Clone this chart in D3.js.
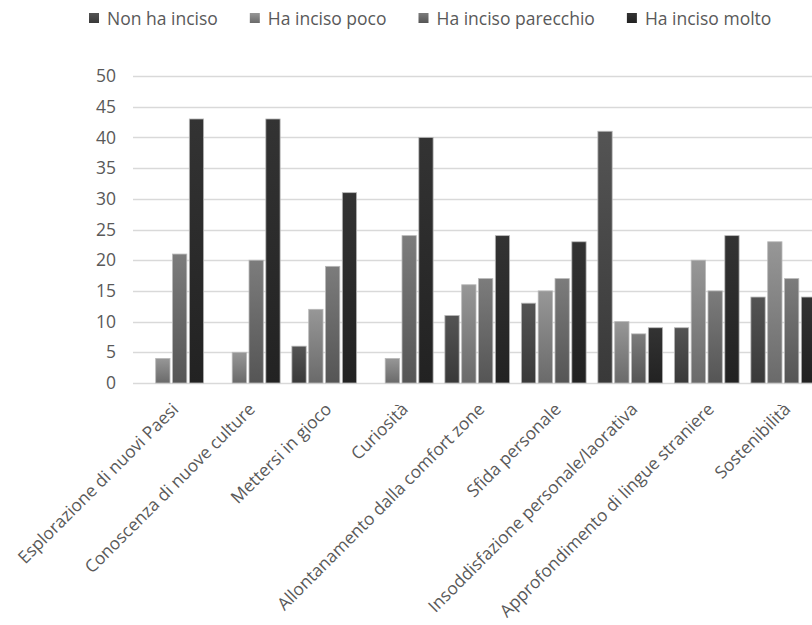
<!DOCTYPE html>
<html>
<head>
<meta charset="utf-8">
<script src="https://cdn.jsdelivr.net/npm/d3@7"></script>
<style>
  html, body { margin: 0; padding: 0; background: #fff; }
  svg { display: block; font-family: "Open Sans", sans-serif; }
</style>
</head>
<body>
<svg id="chart" width="812" height="625"></svg>
<script>
const categories = [
  "Esplorazione di nuovi Paesi",
  "Conoscenza di nuove culture",
  "Mettersi in gioco",
  "Curiosità",
  "Allontanamento dalla comfort zone",
  "Sfida personale",
  "Insoddisfazione personale/laorativa",
  "Approfondimento di lingue straniere",
  "Sostenibilità"
];
const seriesNames = ["Non ha inciso", "Ha inciso poco", "Ha inciso parecchio", "Ha inciso molto"];
const nonHaInciso      = [0, 0, 6, 0, 11, 13, 41, 9, 14];
const haIncisoPoco     = [4, 5, 12, 4, 16, 15, 10, 20, 23];
const haIncisoParecchio= [21, 20, 19, 24, 17, 17, 8, 15, 17];
const haIncisoMolto    = [43, 43, 31, 40, 24, 23, 9, 24, 14];
const seriesValues = [nonHaInciso, haIncisoPoco, haIncisoParecchio, haIncisoMolto];
const yTicks = [0, 5, 10, 15, 20, 25, 30, 35, 40, 45, 50];

const gradTop    = ["#545454", "#979797", "#7c7c7c", "#333333"];
const gradBottom = ["#393939", "#6a6a6a", "#555555", "#222222"];

const svg = d3.select("#chart");
const defs = svg.append("defs");
seriesNames.forEach((s, i) => {
  const g = defs.append("linearGradient").attr("id", "g" + i)
    .attr("x1", 0).attr("y1", 0).attr("x2", 0).attr("y2", 1);
  g.append("stop").attr("offset", "0%").attr("stop-color", gradTop[i]);
  g.append("stop").attr("offset", "100%").attr("stop-color", gradBottom[i]);
});

const x0 = d3.scaleBand().domain(categories).range([133, 821.5]).paddingInner(0).paddingOuter(0);
const x1 = d3.scaleBand().domain(seriesNames).range([0, x0.bandwidth()]).paddingInner(0.15).paddingOuter(0.35);
const y = d3.scaleLinear().domain([0, 50]).range([383, 76]);

// gridlines
svg.append("g").selectAll("line").data(yTicks).join("line")
  .attr("x1", 133).attr("x2", 812)
  .attr("y1", d => Math.round(y(d)) + 0.5).attr("y2", d => Math.round(y(d)) + 0.5)
  .attr("stroke", "#d9d9d9").attr("stroke-width", 1.5);

// y axis labels
const yAxis = d3.axisLeft(y).tickValues(yTicks).tickSize(0).tickPadding(0);
const ya = svg.append("g").attr("transform", "translate(116,0)").call(yAxis);
ya.select(".domain").remove();
ya.selectAll("text").attr("font-size", "17.5px").attr("fill", "#595959")
  .attr("font-family", "Open Sans, sans-serif");

// bars
const groups = svg.append("g").selectAll("g").data(categories).join("g")
  .attr("transform", d => `translate(${x0(d)},0)`);
groups.selectAll("rect")
  .data((c, ci) => seriesNames.map((s, si) => ({ s, si, v: seriesValues[si][ci] })).filter(d => d.v > 0))
  .join("rect")
  .attr("x", d => x1(d.s))
  .attr("width", x1.bandwidth())
  .attr("y", d => y(d.v))
  .attr("height", d => y(0) - y(d.v))
  .attr("fill", d => `url(#g${d.si})`)
  .attr("stroke", "#b8b8b8").attr("stroke-width", 0.8);

// x axis labels
const xAxis = d3.axisBottom(x0).tickSize(0).tickPadding(0);
const xa = svg.append("g").attr("transform", "translate(0,383)").call(xAxis);
xa.select(".domain").remove();
xa.selectAll("text")
  .attr("font-size", "17.3px").attr("fill", "#595959")
  .attr("font-family", "Open Sans, sans-serif")
  .attr("text-anchor", "end")
  .attr("y", 0).attr("dy", "0.35em")
  .attr("transform", "translate(4,23) rotate(-45)");

// legend
const legend = svg.append("g");
let lx = 89;
seriesNames.forEach((s, i) => {
  const item = legend.append("g");
  item.append("rect").attr("x", lx).attr("y", 13).attr("width", 10).attr("height", 10)
    .attr("fill", `url(#g${i})`);
  const t = item.append("text").attr("x", lx + 18).attr("y", 25)
    .attr("font-size", "17.5px").attr("fill", "#595959").text(s);
  lx += 18 + t.node().getComputedTextLength() + 32;
});
</script>
</body>
</html>
